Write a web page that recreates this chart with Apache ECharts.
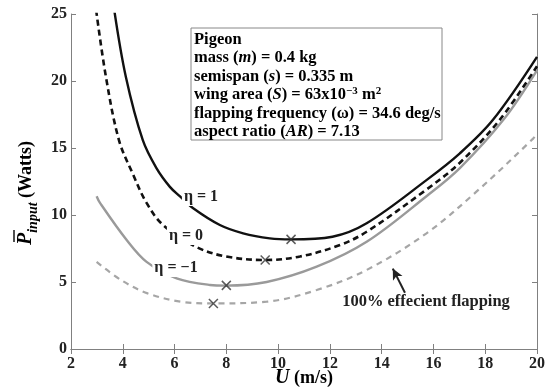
<!DOCTYPE html>
<html>
<head>
<meta charset="utf-8">
<script src="https://cdn.jsdelivr.net/npm/echarts@6/dist/echarts.min.js"></script>
<style>
  html, body { margin: 0; padding: 0; background: #fff; }
  #chart { width: 546px; height: 391px; }
</style>
</head>
<body>
<div id="chart"></div>
<script>
// values: [U (m/s), P (W)]
var eta1 = [[3.67, 25.3], [4.12, 20.3], [4.77, 15.6], [5.3, 13.5], [5.82, 12.1], [6.2, 11.4], [6.72, 10.5],
  [7.75, 9.25], [8.65, 8.63], [9.68, 8.26], [10.5, 8.18], [12.1, 8.38], [13.42, 9.38],
  [15.73, 12.6], [17.02, 14.6], [18.3, 17.1], [20, 21.8]]
var eta0 = [[2.97, 25.3], [3.35, 20.3], [3.85, 15.6], [4.38, 13.1], [4.92, 10.9], [5.56, 9.25], [6.85, 7.6],
  [8.0, 6.9], [9.5, 6.64], [10.84, 6.9], [12.39, 7.76], [13.42, 8.75], [15.73, 11.9], [17.02, 13.9],
  [18.56, 17.1], [20, 21.1]]
var etaM1 = [[2.99, 11.4], [3.12, 10.9], [4.15, 8.13], [4.92, 6.5], [6.08, 5.27], [7.37, 4.78], [7.98, 4.73],
  [9.56, 5.0], [11.49, 6.14], [13.42, 8.0], [15.73, 11.4], [17.02, 13.5], [18.7, 17.1], [20, 20.8]]
var ideal = [[2.99, 6.5], [3.93, 5.15], [4.96, 4.15], [6.25, 3.53], [7.47, 3.4], [9.56, 3.53], [11.49, 4.4],
  [13.42, 5.9], [15.73, 8.63], [17.66, 11.74], [19.85, 15.7], [20, 16.1]]
var minima = [[10.5, 8.18], [9.5, 6.64], [8, 4.75], [7.5, 3.4]]
var arrowFrom = [14.9, 4.2]
var arrowTo = [14.43, 6.0]

var serif = 'Liberation Serif'
var tickFont = { fontFamily: serif, fontWeight: 'bold', fontSize: 16, color: '#222' }
var boxLine = { show: true, lineStyle: { color: '#808080', width: 1 } }
var inTick = { show: true, inside: true, length: 5, lineStyle: { color: '#808080' } }

var myChart = echarts.init(document.getElementById('chart'))

function curve(data, color, width, dash) {
  return {
    type: 'line',
    data: data,
    showSymbol: false,
    smooth: 0.35,
    silent: true,
    lineStyle: { color: color, width: width, type: dash || 'solid' }
  }
}

function bold(text, x, y) {
  return {
    type: 'text', x: x, y: y, z: 100,
    style: {
      text: text, font: 'bold 16px "' + serif + '"', fill: '#222',
      backgroundColor: '#fff', padding: [1, 2], align: 'center', verticalAlign: 'middle'
    }
  }
}

var boxRich = {
  b: { fontFamily: serif, fontWeight: 'bold', fontSize: 16.5, lineHeight: 18.5, color: '#222' },
  i: { fontFamily: serif, fontWeight: 'bold', fontStyle: 'italic', fontSize: 16.5, lineHeight: 18.5, color: '#222' },
  sup: { fontFamily: serif, fontWeight: 'bold', fontSize: 11, lineHeight: 18.5, verticalAlign: 'top', color: '#222' }
}

var option = {
  animation: false,
  backgroundColor: '#fff',
  grid: { left: 71, right: 9, top: 14, bottom: 42, outerBoundsMode: 'none', containLabel: false },
  xAxis: [{
    type: 'value', min: 2, max: 20, interval: 2,
    axisLine: boxLine, axisTick: inTick, splitLine: { show: false },
    axisLabel: Object.assign({ margin: 7 }, tickFont)
  }, {
    type: 'value', min: 2, max: 20, interval: 2, position: 'top',
    axisLine: boxLine, axisTick: inTick, axisLabel: { show: false }, splitLine: { show: false }
  }],
  yAxis: [{
    type: 'value', min: 0, max: 25, interval: 5,
    axisLine: boxLine, axisTick: inTick, splitLine: { show: false },
    axisLabel: Object.assign({ margin: 4 }, tickFont)
  }, {
    type: 'value', min: 0, max: 25, interval: 5, position: 'right',
    axisLine: boxLine, axisTick: inTick, axisLabel: { show: false }, splitLine: { show: false }
  }],
  series: [
    curve(ideal, '#a6a6a6', 2.2, [6, 5]),
    curve(etaM1, '#9a9a9a', 2.4),
    curve(eta0, '#111', 2.6, [6, 4]),
    curve(eta1, '#111', 2.4),
    {
      type: 'scatter',
      data: minima,
      symbol: 'path://M0,0L10,10M10,0L0,10',
      symbolSize: 9,
      silent: true,
      z: 5,
      itemStyle: { color: 'none', borderColor: '#333', borderWidth: 1.5 },
      markLine: {
        silent: true,
        symbol: ['none', 'arrow'],
        symbolSize: [8, 11],
        label: { show: false },
        lineStyle: { color: '#222', width: 2, type: 'solid' },
        data: [[{ coord: arrowFrom }, { coord: arrowTo }]]
      }
    }
  ],
  graphic: [
    {
      type: 'rect', z: 90,
      shape: { x: 191, y: 28, width: 251, height: 112 },
      style: { fill: '#fff', stroke: '#888', lineWidth: 1 }
    },
    {
      type: 'text', x: 194, y: 30, z: 100,
      style: {
        text: [
          '{b|Pigeon}',
          '{b|mass (}{i|m}{b|) = 0.4 kg}',
          '{b|semispan (}{i|s}{b|) = 0.335 m}',
          '{b|wing area (}{i|S}{b|) = 63x10}{sup|−3}{b| m}{sup|2}',
          '{b|flapping frequency (ω) = 34.6 deg/s}',
          '{b|aspect ratio (}{i|AR}{b|) = 7.13}'
        ].join('\n'),
        rich: boxRich
      }
    },
    bold('η = 1', 201, 197),
    bold('η = 0', 186, 236),
    bold('η = −1', 176, 268),
    {
      type: 'text', x: 426, y: 302, z: 100,
      style: {
        text: '100% effecient flapping', font: 'bold 16.5px "' + serif + '"', fill: '#222',
        align: 'center', verticalAlign: 'middle'
      }
    },
    {
      type: 'text', x: 304, y: 378, z: 100,
      style: {
        text: '{i|U}{b| (m/s)}', align: 'center', verticalAlign: 'middle',
        rich: {
          i: { fontFamily: serif, fontWeight: 'bold', fontStyle: 'italic', fontSize: 20, color: '#222' },
          b: { fontFamily: serif, fontWeight: 'bold', fontSize: 18, color: '#222' }
        }
      }
    },
    {
      type: 'group', x: 26, y: 172, rotation: Math.PI / 2,
      children: [
        {
          type: 'text', x: -73, y: 0,
          style: {
            text: '{P|P}{sub|input}{b| (Watts)}',
            align: 'left', verticalAlign: 'middle',
            rich: {
              P: { fontFamily: serif, fontWeight: 'bold', fontStyle: 'italic', fontSize: 20, lineHeight: 28, verticalAlign: 'middle', color: '#222' },
              sub: { fontFamily: serif, fontWeight: 'bold', fontStyle: 'italic', fontSize: 14, lineHeight: 28, verticalAlign: 'bottom', color: '#222' },
              b: { fontFamily: serif, fontWeight: 'bold', fontSize: 18, lineHeight: 28, verticalAlign: 'middle', color: '#222' }
            }
          }
        },
        {
          type: 'line',
          shape: { x1: -70, y1: -12, x2: -58, y2: -12 },
          style: { stroke: '#222', lineWidth: 1.6 }
        }
      ]
    }
  ]
}

myChart.setOption(option)
</script>
</body>
</html>
